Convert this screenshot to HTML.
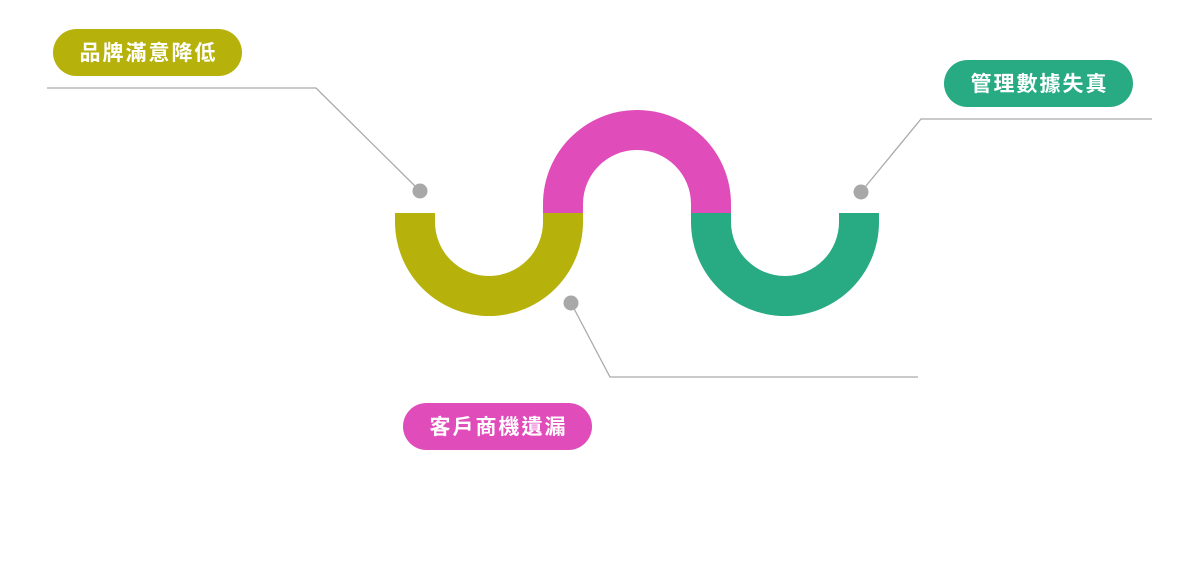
<!DOCTYPE html>
<html><head><meta charset="utf-8"><style>
html,body{margin:0;padding:0;background:#fff;width:1200px;height:570px;overflow:hidden}
</style></head><body>
<svg width="1200" height="570" viewBox="0 0 1200 570" xmlns="http://www.w3.org/2000/svg">
<rect width="1200" height="570" fill="#fff"/>
<path d="M395 213 H435 V222 A54 54 0 0 0 543 222 V213 H583 V222 A94 94 0 0 1 395 222 Z" fill="#b7b20b"/>
<path d="M543 213 V204 A94 94 0 0 1 731 204 V213 H691 V204 A54 54 0 0 0 583 204 V213 Z" fill="#e04cba"/>
<path d="M691 213 H731 V222 A54 54 0 0 0 839 222 V213 H879 V222 A94 94 0 0 1 691 222 Z" fill="#28aa82"/>
<g stroke="#aaaaaa" stroke-width="1.3" fill="none">
<polyline points="47,88 316,88 420,191"/>
<polyline points="1152,119 921,119 861,192"/>
<polyline points="571,303 610,377 918,377"/>
</g>
<g fill="#a8a8a8">
<circle cx="420" cy="191" r="7.5"/>
<circle cx="861" cy="192" r="7.5"/>
<circle cx="571" cy="303" r="7.5"/>
</g>
<rect x="53" y="29" width="189" height="47" rx="23.5" fill="#b7b20b"/>
<rect x="944" y="60" width="189" height="47" rx="23.5" fill="#28aa82"/>
<rect x="403" y="403" width="189" height="47" rx="23.5" fill="#e04cba"/>
<g font-family="'Liberation Sans','Noto Sans CJK TC',sans-serif" font-size="21" font-weight="bold" fill="#fff" text-anchor="middle" letter-spacing="2">
<text x="148.5" y="60">品牌滿意降低</text>
<text x="1039.5" y="91">管理數據失真</text>
<text x="498.5" y="434">客戶商機遺漏</text>
</g>
</svg>
</body></html>
